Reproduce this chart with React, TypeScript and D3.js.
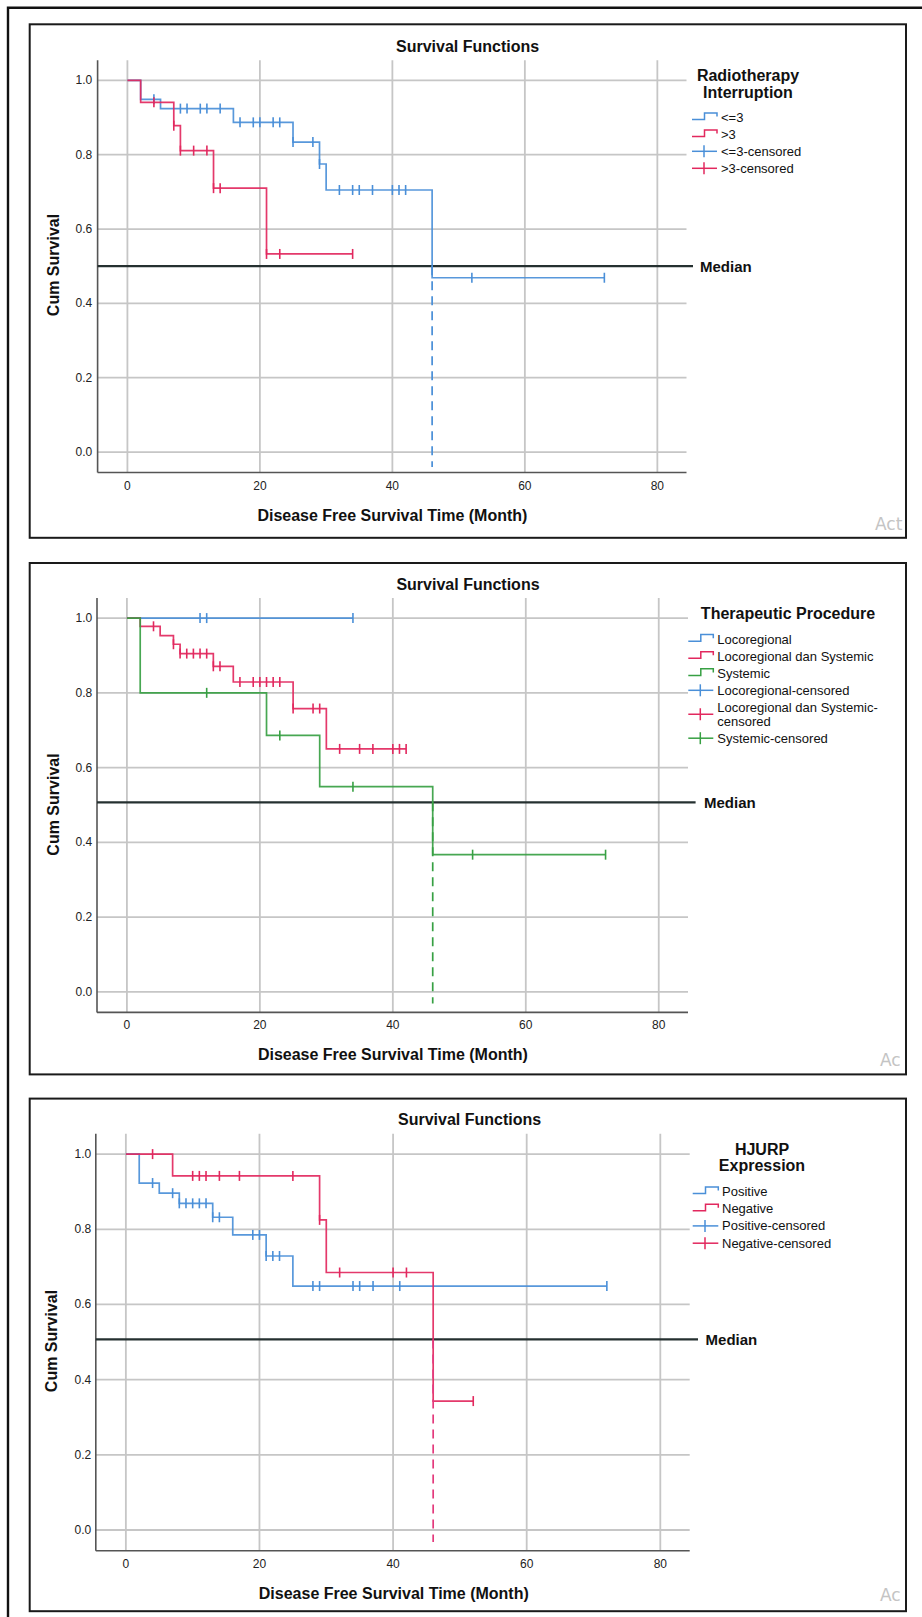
import React from "react";
import * as d3 from "d3";

const FONT = "'Liberation Sans', Arial, Helvetica, sans-serif";

// ---------- shared text / ticks ----------
const chartTitle = "Survival Functions";
const xAxisTitle = "Disease Free Survival Time (Month)";
const yAxisTitle = "Cum Survival";
const medianLabel = "Median";
const watermarkTexts = ["Act", "Ac", "Ac"];
const xTickValues = [0, 20, 40, 60, 80];
const yTickValues = [0, 0.2, 0.4, 0.6, 0.8, 1.0];
const xDomain = [-4.5, 84.4];
const yDomain = [-0.055, 1.054];

// ---------- panel 1: Radiotherapy Interruption ----------
const p1LegendTitle = ["Radiotherapy", "Interruption"];
const p1Groups = ["<=3", ">3"];
const p1LowEventTimes = [2, 5, 16, 25, 29, 30, 46];
const p1LowEventSurv = [0.949, 0.924, 0.887, 0.834, 0.775, 0.705, 0.469];
const p1LowCensor = [4, 8, 9, 11, 12, 14, 17, 19, 20, 22, 23, 25, 28, 29, 32, 34, 35, 37, 40, 41, 42, 52, 72];
const p1HighEventTimes = [2, 7, 8, 13, 21];
const p1HighEventSurv = [0.941, 0.878, 0.811, 0.71, 0.533];
const p1HighCensor = [4, 7, 8, 10, 12, 13, 14, 21, 23, 34];
const p1Median = 0.5;
const p1MedianTime = 46;
const p1DashBottom = -0.04;

// ---------- panel 2: Therapeutic Procedure ----------
const p2LegendTitle = ["Therapeutic Procedure"];
const p2Groups = ["Locoregional", "Locoregional dan Systemic", "Systemic"];
const p2LocoEventTimes: number[] = [];
const p2LocoEventSurv: number[] = [];
const p2LocoCensor = [11, 12, 34];
const p2BothEventTimes = [2, 5, 7, 8, 13, 16, 25, 30];
const p2BothEventSurv = [0.978, 0.953, 0.93, 0.905, 0.871, 0.829, 0.758, 0.65];
const p2BothCensor = [4, 7, 8, 9, 10, 11, 12, 13, 14, 17, 19, 20, 21, 22, 23, 25, 28, 29, 32, 35, 37, 40, 41, 42];
const p2SysEventTimes = [2, 21, 29, 46];
const p2SysEventSurv = [0.8, 0.686, 0.549, 0.367];
const p2SysCensor = [12, 23, 34, 52, 72];
const p2Median = 0.507;
const p2MedianTime = 46;
const p2DashBottom = -0.031;

// ---------- panel 3: HJURP Expression ----------
const p3LegendTitle = ["HJURP", "Expression"];
const p3Groups = ["Positive", "Negative"];
const p3PosEventTimes = [2, 5, 8, 13, 16, 21, 25];
const p3PosEventSurv = [0.923, 0.896, 0.869, 0.832, 0.785, 0.729, 0.649];
const p3PosCensor = [4, 7, 8, 9, 10, 11, 12, 13, 14, 19, 20, 21, 22, 23, 28, 29, 34, 35, 37, 41, 72];
const p3NegEventTimes = [7, 29, 30, 46];
const p3NegEventSurv = [0.942, 0.825, 0.685, 0.343];
const p3NegCensor = [4, 10, 11, 12, 14, 17, 25, 29, 32, 40, 42, 52];
const p3Median = 0.507;
const p3MedianTime = 46;
const p3DashBottom = -0.032;

// ---------- styles ----------
const BLUE = "#4a8fd8";
const RED = "#e2285e";
const GREEN = "#37a043";
const MAGENTA = "#e33a7c";

type Series = {
  name: string;
  color: string;
  times: number[];
  surv: number[];
  censor: number[];
};

type Layout = {
  frameY: number;
  frameH: number;
  left: number;
  right: number;
  top: number;
  bottom: number;
  titleX: number;
  titleY: number;
  yLabelX: number;
  yLabelY: number;
  xLabelX: number;
  xLabelY: number;
  tickLabelY: number;
  yTickX: number;
  medianEndX: number;
  medianLabelX: number;
  legTitleX: number;
  legTitleY: number;
  legItemY: number;
  legStep: number;
  symX1: number;
  symX2: number;
  legTextX: number;
  wmX: number;
  wmY: number;
};

const layouts: Layout[] = [
  {
    frameY: 24.3, frameH: 513.5, left: 97.6, right: 686.5, top: 60.3, bottom: 472.5,
    titleX: 467.6, titleY: 46.5, yLabelX: 53, yLabelY: 265, xLabelX: 392.4, xLabelY: 515,
    tickLabelY: 485.5, yTickX: 92.3, medianEndX: 693, medianLabelX: 700,
    legTitleX: 748, legTitleY: 75.7, legItemY: 117.3, legStep: 17,
    symX1: 692, symX2: 717, legTextX: 721, wmX: 875, wmY: 530,
  },
  {
    frameY: 563, frameH: 511.4, left: 97, right: 688, top: 597.9, bottom: 1012.4,
    titleX: 468, titleY: 584, yLabelX: 53, yLabelY: 804.5, xLabelX: 392.9, xLabelY: 1054.8,
    tickLabelY: 1024.8, yTickX: 92.3, medianEndX: 695.6, medianLabelX: 704,
    legTitleX: 788, legTitleY: 613.3, legItemY: 639, legStep: 17.1,
    symX1: 688.3, symX2: 713.3, legTextX: 717.3, wmX: 880, wmY: 1066,
  },
  {
    frameY: 1098.6, frameH: 512.6, left: 95.8, right: 689.7, top: 1133.8, bottom: 1550.7,
    titleX: 469.6, titleY: 1119.9, yLabelX: 51.7, yLabelY: 1341, xLabelX: 393.8, xLabelY: 1593.3,
    tickLabelY: 1563.6, yTickX: 91.2, medianEndX: 698, medianLabelX: 705.6,
    legTitleX: 762, legTitleY: 1149, legItemY: 1191.3, legStep: 17.3,
    symX1: 692.7, symX2: 718.3, legTextX: 722, wmX: 880, wmY: 1601,
  },
];

function survAt(s: Series, t: number) {
  let v = 1;
  s.times.forEach((et, i) => {
    if (et <= t) v = s.surv[i];
  });
  return v;
}

function wrapLabel(label: string): string[] {
  if (label.length > 26) {
    const i = label.lastIndexOf("-");
    if (i > 0) return [label.slice(0, i + 1), label.slice(i + 1)];
  }
  return [label];
}

function Panel({
  L,
  series,
  legendTitle,
  median,
  medianTime,
  dashBottom,
  dashColor,
  idx,
}: {
  L: Layout;
  series: Series[];
  legendTitle: string[];
  median: number;
  medianTime: number;
  dashBottom: number;
  dashColor: string;
  idx: number;
}) {
  const x = d3.scaleLinear().domain(xDomain).range([L.left, L.right]);
  const y = d3.scaleLinear().domain(yDomain).range([L.bottom, L.top]);
  const line = d3
    .line<[number, number]>()
    .x((d) => x(d[0]))
    .y((d) => y(d[1]))
    .curve(d3.curveStepAfter);

  const gridColor = "#c6c6c6";
  const frameX = 29.7;
  const frameW = 876.3;

  type Entry = { lines: string[]; color: string; kind: "step" | "cens" };
  const entries: Entry[] = [
    ...series.map((s) => ({ lines: [s.name], color: s.color, kind: "step" as const })),
    ...series.map((s) => ({ lines: wrapLabel(`${s.name}-censored`), color: s.color, kind: "cens" as const })),
  ];
  let cursor = L.legItemY;
  const placed = entries.map((e, i) => {
    if (i > 0) cursor += L.legStep;
    const ys = e.lines.map((_, j) => cursor + j * 13.7);
    cursor = ys[ys.length - 1];
    const mid = (ys[0] + ys[ys.length - 1]) / 2;
    return { ...e, ys, mid };
  });

  return (
    <g>
      <rect x={frameX} y={L.frameY} width={frameW} height={L.frameH} fill="#fff" stroke="#1a1a1a" strokeWidth={2} />
      <text x={L.titleX} y={L.titleY} textAnchor="middle" dominantBaseline="central" fontFamily={FONT} fontWeight="bold" fontSize={16} fill="#111">
        {chartTitle}
      </text>
      {yTickValues.map((v) => (
        <line key={`hy${v}`} x1={L.left} x2={L.right} y1={y(v)} y2={y(v)} stroke={gridColor} strokeWidth={1.8} />
      ))}
      {xTickValues.map((v) => (
        <line key={`vx${v}`} x1={x(v)} x2={x(v)} y1={L.top} y2={L.bottom} stroke={gridColor} strokeWidth={1.8} />
      ))}
      <line x1={L.left} x2={L.left} y1={L.top} y2={L.bottom} stroke="#555" strokeWidth={1.6} />
      <line x1={L.left} x2={L.right} y1={L.bottom} y2={L.bottom} stroke="#555" strokeWidth={1.6} />
      {yTickValues.map((v) => (
        <text key={`ty${v}`} x={L.yTickX} y={y(v)} textAnchor="end" dominantBaseline="central" fontFamily={FONT} fontSize={12} fill="#222">
          {d3.format(".1f")(v)}
        </text>
      ))}
      {xTickValues.map((v) => (
        <text key={`tx${v}`} x={x(v)} y={L.tickLabelY} textAnchor="middle" dominantBaseline="central" fontFamily={FONT} fontSize={12} fill="#222">
          {v}
        </text>
      ))}
      <text x={L.xLabelX} y={L.xLabelY} textAnchor="middle" dominantBaseline="central" fontFamily={FONT} fontWeight="bold" fontSize={16} fill="#111">
        {xAxisTitle}
      </text>
      <text
        transform={`translate(${L.yLabelX},${L.yLabelY}) rotate(-90)`}
        textAnchor="middle"
        dominantBaseline="central"
        fontFamily={FONT}
        fontWeight="bold"
        fontSize={16}
        fill="#111"
      >
        {yAxisTitle}
      </text>
      <line x1={L.left} x2={L.medianEndX} y1={y(median)} y2={y(median)} stroke="#253030" strokeWidth={2.2} />
      <text x={L.medianLabelX} y={y(median)} dominantBaseline="central" fontFamily={FONT} fontWeight="bold" fontSize={15} fill="#111">
        {medianLabel}
      </text>
      {series.map((s) => {
        const last = s.times.length ? s.surv[s.surv.length - 1] : 1;
        const end = Math.max(...s.censor, ...s.times);
        const pts: [number, number][] = [[0, 1], ...s.times.map((t, i) => [t, s.surv[i]] as [number, number]), [end, last]];
        return (
          <g key={s.name}>
            <path d={line(pts) || ""} fill="none" stroke={s.color} strokeWidth={1.7} strokeOpacity={0.92} />
            {s.censor.map((c, i) => (
              <line
                key={i}
                x1={x(c)}
                x2={x(c)}
                y1={y(survAt(s, c)) - 5}
                y2={y(survAt(s, c)) + 5}
                stroke={s.color}
                strokeWidth={1.6}
              />
            ))}
          </g>
        );
      })}
      <line
        x1={x(medianTime)}
        x2={x(medianTime)}
        y1={y(median)}
        y2={y(dashBottom)}
        stroke={dashColor}
        strokeWidth={1.7}
        strokeDasharray="9,6"
      />
      {legendTitle.map((t, i) => (
        <text key={t} x={L.legTitleX} y={L.legTitleY + i * 16.6} textAnchor="middle" dominantBaseline="central" fontFamily={FONT} fontWeight="bold" fontSize={16} fill="#111">
          {t}
        </text>
      ))}
      {placed.map((e, i) => {
        const xm = (L.symX1 + L.symX2) / 2;
        return (
          <g key={i}>
            {e.kind === "step" ? (
              <path
                d={`M${L.symX1},${e.mid + 2.2}H${xm}V${e.mid - 4.4}H${L.symX2}V${e.mid - 0.8}`}
                fill="none"
                stroke={e.color}
                strokeWidth={1.5}
              />
            ) : (
              <g>
                <line x1={L.symX1} x2={L.symX2} y1={e.mid} y2={e.mid} stroke={e.color} strokeWidth={1.5} />
                <line x1={xm - 0.5} x2={xm - 0.5} y1={e.mid - 6} y2={e.mid + 6} stroke={e.color} strokeWidth={1.5} />
              </g>
            )}
            {e.lines.map((ln, j) => (
              <text key={j} x={L.legTextX} y={e.ys[j]} dominantBaseline="central" fontFamily={FONT} fontSize={13} fill="#111">
                {ln}
              </text>
            ))}
          </g>
        );
      })}
      <text x={L.wmX} y={L.wmY} fontFamily="'DejaVu Sans', sans-serif" fontSize={17} fill="#c4c4c4">
        {watermarkTexts[idx]}
      </text>
    </g>
  );
}

export default function App() {
  const panels = [
    {
      series: [
        { name: p1Groups[0], color: BLUE, times: p1LowEventTimes, surv: p1LowEventSurv, censor: p1LowCensor },
        { name: p1Groups[1], color: RED, times: p1HighEventTimes, surv: p1HighEventSurv, censor: p1HighCensor },
      ],
      legendTitle: p1LegendTitle,
      median: p1Median,
      medianTime: p1MedianTime,
      dashBottom: p1DashBottom,
      dashColor: BLUE,
    },
    {
      series: [
        { name: p2Groups[0], color: BLUE, times: p2LocoEventTimes, surv: p2LocoEventSurv, censor: p2LocoCensor },
        { name: p2Groups[1], color: RED, times: p2BothEventTimes, surv: p2BothEventSurv, censor: p2BothCensor },
        { name: p2Groups[2], color: GREEN, times: p2SysEventTimes, surv: p2SysEventSurv, censor: p2SysCensor },
      ],
      legendTitle: p2LegendTitle,
      median: p2Median,
      medianTime: p2MedianTime,
      dashBottom: p2DashBottom,
      dashColor: GREEN,
    },
    {
      series: [
        { name: p3Groups[0], color: BLUE, times: p3PosEventTimes, surv: p3PosEventSurv, censor: p3PosCensor },
        { name: p3Groups[1], color: RED, times: p3NegEventTimes, surv: p3NegEventSurv, censor: p3NegCensor },
      ],
      legendTitle: p3LegendTitle,
      median: p3Median,
      medianTime: p3MedianTime,
      dashBottom: p3DashBottom,
      dashColor: MAGENTA,
    },
  ];

  return (
    <svg
      width={922}
      height={1617}
      viewBox="0 0 922 1617"
      style={{ position: "absolute", left: 0, top: 0, background: "#fff" }}
    >
      <rect x={0} y={0} width={922} height={1617} fill="#fff" />
      <path d="M8,1617V7.7H922" fill="none" stroke="#111" strokeWidth={2.4} />
      {panels.map((p, i) => (
        <Panel key={i} idx={i} L={layouts[i]} {...p} />
      ))}
    </svg>
  );
}
